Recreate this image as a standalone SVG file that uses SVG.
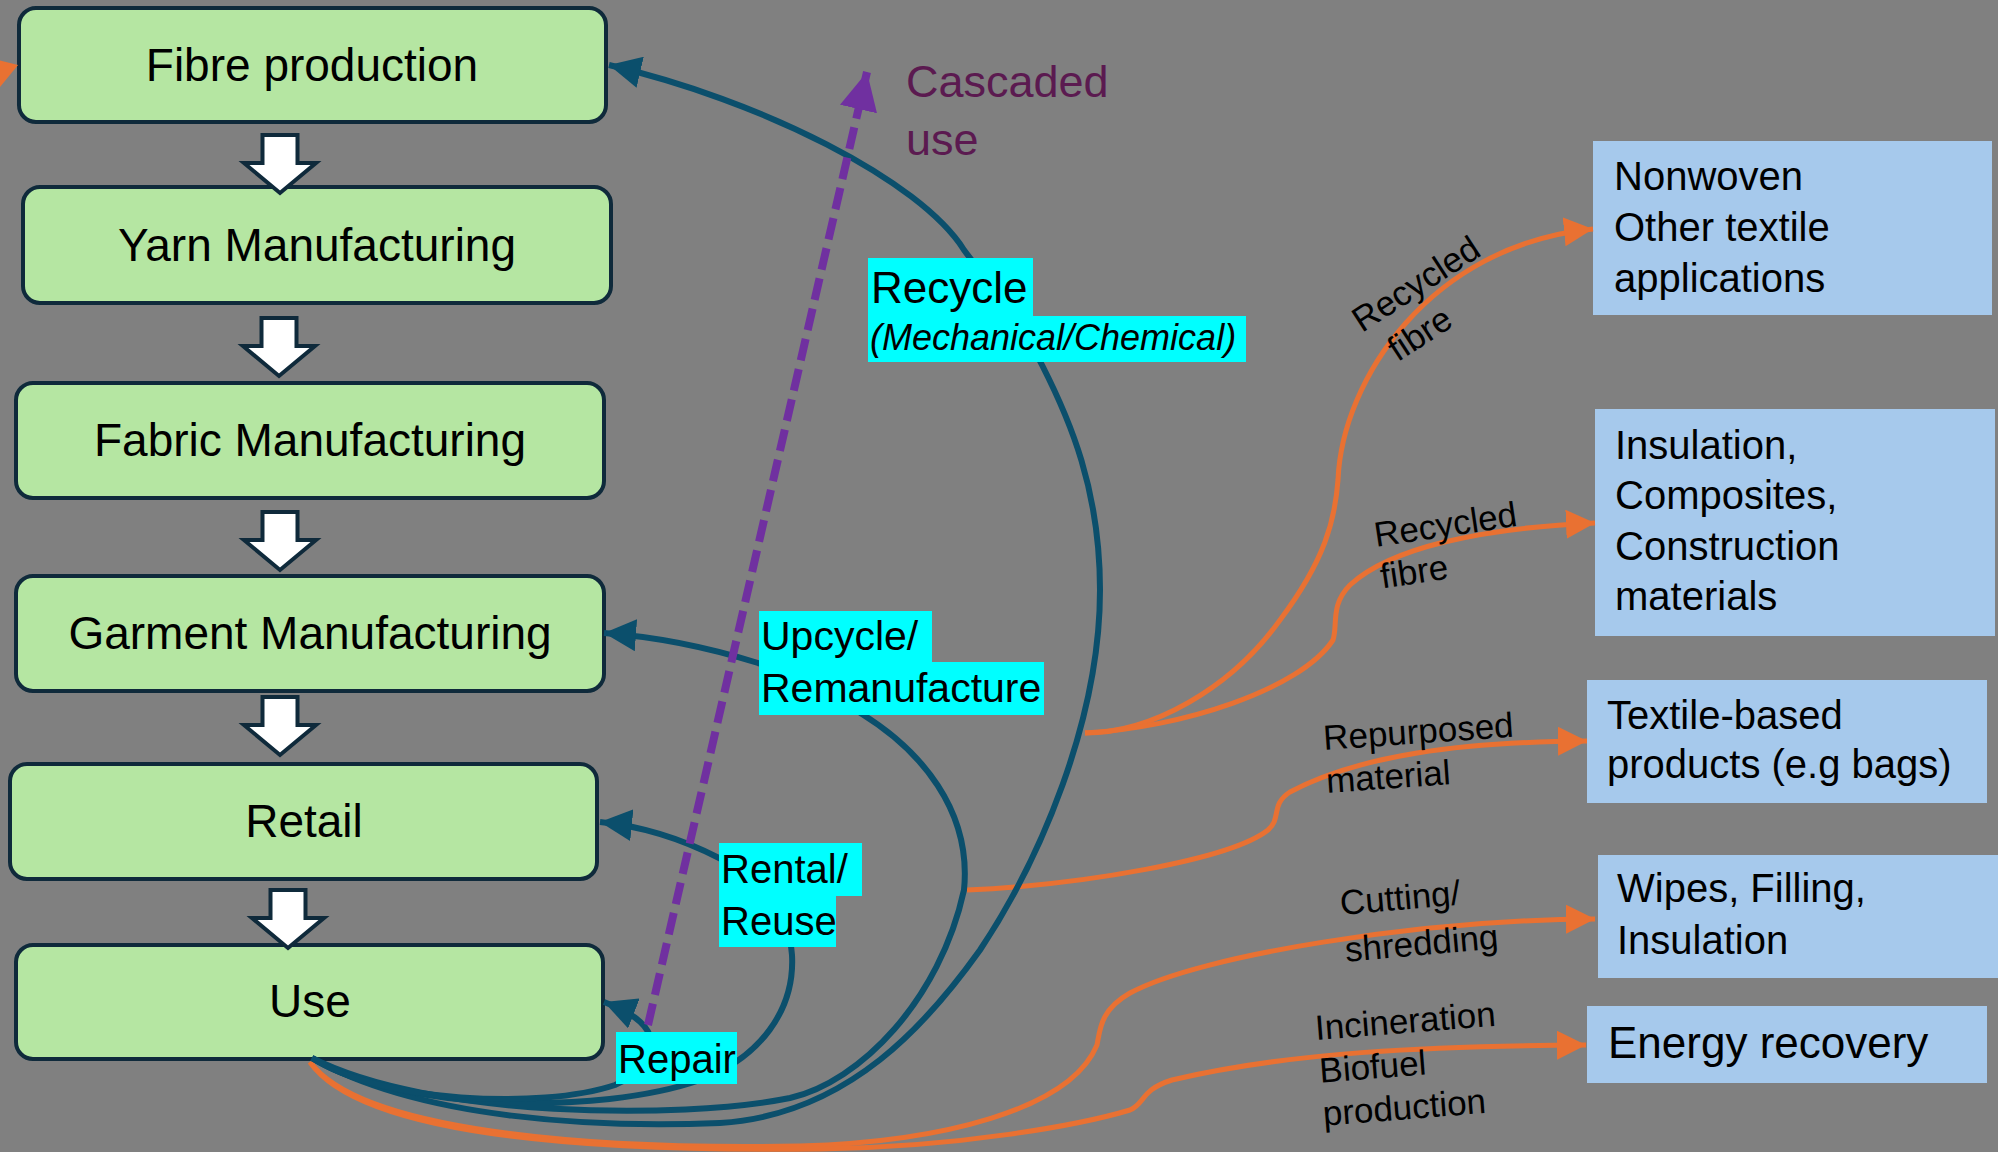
<svg xmlns="http://www.w3.org/2000/svg" width="1998" height="1152" viewBox="0 0 1998 1152">
  <style>
    text { font-family: "Liberation Sans", Arial, sans-serif; fill: #000; }
    .stage { fill: #b5e6a2; stroke: #0f2a3b; stroke-width: 4; }
    .stage-t { font-size: 46px; text-anchor: middle; }
    .out { fill: #a6c9ec; }
    .out-t { font-size: 40px; }
    .tag { fill: #00ffff; }
    .tag-t { font-size: 40px; }
    .loop { fill: none; stroke: #0b4f6c; stroke-width: 6; marker-end: url(#ah-teal); }
    .flow { fill: none; stroke: #e97132; stroke-width: 5; }
    .flow-a { marker-end: url(#ah-orange); }
    .cascade { fill: none; stroke: #7030a0; stroke-width: 8; stroke-dasharray: 22 9; marker-end: url(#ah-purple); }
    .step { fill: #ffffff; stroke: #0f2a3b; stroke-width: 4; stroke-linejoin: miter; }
    .route-t { font-size: 35px; }
  </style>
  <defs>
    <marker id="ah-teal" viewBox="0 0 10 10" refX="10" refY="5" markerWidth="32" markerHeight="32" markerUnits="userSpaceOnUse" orient="auto">
      <path d="M0,0L10,5L0,10Z" fill="#0b4f6c"/>
    </marker>
    <marker id="ah-orange" viewBox="0 0 10 10" refX="10" refY="5" markerWidth="29" markerHeight="29" markerUnits="userSpaceOnUse" orient="auto">
      <path d="M0,0L10,5L0,10Z" fill="#e97132"/>
    </marker>
    <marker id="ah-purple" viewBox="0 0 10 10" refX="10" refY="5" markerWidth="38" markerHeight="38" markerUnits="userSpaceOnUse" orient="auto">
      <path d="M0,0L10,5L0,10Z" fill="#7030a0"/>
    </marker>
    <!-- block arrow pointing down, origin at top centre -->
    <path id="down" d="M-17.5,0H17.5V28H36L0,58L-36,28H-17.5Z"/>
  </defs>

  <rect width="1998" height="1152" fill="#808080"/>

  <!-- value chain stages -->
  <g id="fibre-production">
    <rect class="stage" x="19" y="8" width="587" height="114" rx="17"/>
    <text class="stage-t" x="312" y="81">Fibre production</text>
  </g>
  <g id="yarn-manufacturing">
    <rect class="stage" x="23" y="187" width="588" height="116" rx="17"/>
    <text class="stage-t" x="317" y="261">Yarn Manufacturing</text>
  </g>
  <g id="fabric-manufacturing">
    <rect class="stage" x="16" y="383" width="588" height="115" rx="17"/>
    <text class="stage-t" x="310" y="456">Fabric Manufacturing</text>
  </g>
  <g id="garment-manufacturing">
    <rect class="stage" x="16" y="576" width="588" height="115" rx="17"/>
    <text class="stage-t" x="310" y="649">Garment Manufacturing</text>
  </g>
  <g id="retail">
    <rect class="stage" x="10" y="764" width="587" height="115" rx="17"/>
    <text class="stage-t" x="304" y="837">Retail</text>
  </g>
  <g id="use">
    <rect class="stage" x="16" y="945" width="587" height="114" rx="17"/>
    <text class="stage-t" x="310" y="1017">Use</text>
  </g>

  <!-- end-of-life outputs -->
  <g id="nonwoven">
    <rect class="out" x="1593" y="141" width="399" height="174"/>
    <text class="out-t" x="1614" y="190">Nonwoven</text>
    <text class="out-t" x="1614" y="241">Other textile</text>
    <text class="out-t" x="1614" y="292">applications</text>
  </g>
  <g id="insulation-composites">
    <rect class="out" x="1595" y="409" width="400" height="227"/>
    <text class="out-t" x="1615" y="459">Insulation,</text>
    <text class="out-t" x="1615" y="509">Composites,</text>
    <text class="out-t" x="1615" y="560">Construction</text>
    <text class="out-t" x="1615" y="610">materials</text>
  </g>
  <g id="textile-products">
    <rect class="out" x="1587" y="680" width="400" height="123"/>
    <text class="out-t" x="1607" y="729">Textile-based</text>
    <text class="out-t" x="1607" y="778">products (e.g bags)</text>
  </g>
  <g id="wipes-filling">
    <rect class="out" x="1598" y="855" width="400" height="123"/>
    <text class="out-t" x="1617" y="902">Wipes, Filling,</text>
    <text class="out-t" x="1617" y="954">Insulation</text>
  </g>
  <g id="energy-recovery">
    <rect class="out" x="1587" y="1006" width="400" height="77"/>
    <text x="1608" y="1058" font-size="44">Energy recovery</text>
  </g>

  <g id="connectors">
    <!-- stage to stage -->
    <use href="#down" class="step" x="280" y="135"/>
    <use href="#down" class="step" x="279" y="318"/>
    <use href="#down" class="step" x="280" y="512"/>
    <use href="#down" class="step" x="280" y="697"/>
    <use href="#down" class="step" x="288" y="890"/>

    <!-- inflow to fibre production -->
    <polygon points="18,65 -10,58 -4,92" fill="#e97132"/>

    <!-- outflows -->
    <path class="flow flow-a" d="M1085,733 C1150,733 1230,690 1280,620 C1325,560 1335,520 1338,480 C1342,380 1430,245 1593,229"/>
    <path class="flow flow-a" d="M1085,733 C1180,728 1300,690 1333,640 C1338,625 1330,605 1350,585 C1390,548 1480,528 1595,523"/>
    <path class="flow flow-a" d="M967,890 C1080,885 1230,860 1268,830 C1282,818 1270,805 1290,792 C1360,755 1460,742 1587,741"/>
    <path class="flow flow-a" d="M310,1062 C360,1130 580,1150 800,1146 C940,1142 1070,1110 1097,1045 C1100,1030 1100,1010 1130,993 C1200,955 1420,920 1595,919"/>
    <path class="flow flow-a" d="M310,1062 C360,1135 580,1152 820,1149 C960,1147 1080,1125 1130,1110 C1145,1104 1140,1090 1172,1080 C1290,1052 1430,1046 1586,1045"/>

    <!-- loops back from use -->
    <path class="loop" d="M312,1058 C420,1120 600,1128 720,1123 C850,1115 930,1020 980,950 C1040,860 1100,720 1100,590 C1100,490 1070,420 1042,365 C1020,320 990,285 964,250 C920,180 760,100 609,65"/>
    <path class="loop" d="M312,1058 C430,1118 680,1120 790,1098 C860,1082 940,1000 964,890 C972,810 920,750 862,714 C830,690 800,675 758,663 C710,648 660,637 604,633"/>
    <path class="loop" d="M312,1058 C400,1112 600,1115 700,1080 C760,1058 795,1010 792,955 C788,905 760,878 719,858 C680,838 640,826 600,822"/>
    <path class="loop" d="M312,1058 C380,1102 540,1110 615,1085 C640,1075 655,1052 650,1036 C645,1022 630,1012 604,1002"/>

    <!-- cascaded use -->
    <path class="cascade" d="M648,1025 L867,72"/>
  </g>

  <g id="labels">
    <g id="label-recycle">
      <rect class="tag" x="868" y="258" width="165" height="58"/>
      <rect class="tag" x="868" y="316" width="378" height="46"/>
      <text x="871" y="303" font-size="44">Recycle</text>
      <text x="870" y="350" font-size="36" font-style="italic">(Mechanical/Chemical)</text>
    </g>
    <g id="label-upcycle">
      <rect class="tag" x="759" y="611" width="173" height="51"/>
      <rect class="tag" x="759" y="662" width="285" height="53"/>
      <text x="761" y="650" font-size="41">Upcycle/</text>
      <text x="761" y="702" font-size="41">Remanufacture</text>
    </g>
    <g id="label-rental">
      <rect class="tag" x="719" y="843" width="143" height="53"/>
      <rect class="tag" x="719" y="896" width="117" height="51"/>
      <text class="tag-t" x="721" y="883">Rental/</text>
      <text class="tag-t" x="721" y="935">Reuse</text>
    </g>
    <g id="label-repair">
      <rect class="tag" x="616" y="1032" width="121" height="52"/>
      <text class="tag-t" x="618" y="1073">Repair</text>
    </g>

    <g id="label-cascaded">
      <text x="906" y="97" font-size="45" fill="#5b1a50" style="fill:#5b1a50">Cascaded</text>
      <text x="906" y="155" font-size="45" style="fill:#5b1a50">use</text>
    </g>

    <g class="route-t">
      <text class="route-t" transform="translate(1362,333) rotate(-33)"><tspan x="0" y="0">Recycled</tspan><tspan x="14" y="44">fibre</tspan></text>
      <text class="route-t" transform="translate(1376,547) rotate(-8.5)"><tspan x="0" y="0">Recycled</tspan><tspan x="0" y="42">fibre</tspan></text>
      <text class="route-t" transform="translate(1324,750) rotate(-4)"><tspan x="0" y="0">Repurposed</tspan><tspan x="0" y="43">material</tspan></text>
      <text class="route-t" transform="translate(1341,915) rotate(-5)"><tspan x="0" y="0">Cutting/</tspan><tspan x="1" y="47">shredding</tspan></text>
      <text class="route-t" transform="translate(1316,1040) rotate(-4.5)"><tspan x="0" y="0">Incineration</tspan><tspan x="1" y="43">Biofuel</tspan><tspan x="1" y="86">production</tspan></text>
    </g>
  </g>
</svg>
